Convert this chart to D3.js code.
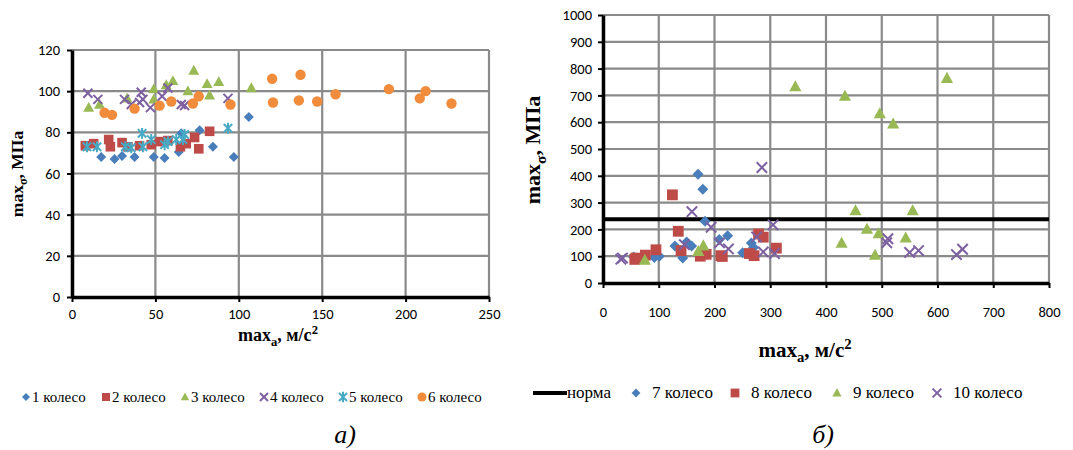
<!DOCTYPE html>
<html>
<head>
<meta charset="utf-8">
<script src="https://cdn.jsdelivr.net/npm/d3@7"></script>
<style>
  html, body { margin: 0; padding: 0; background: #fff; }
  svg { display: block; }
</style>
</head>
<body>
<script>
// ---- panel а): wheels 1–6 ----
const w1x = [17.5, 25.5, 30, 37.5, 49, 55.5, 64, 65.5, 76.5, 84.5, 97, 106];
const w1y = [68, 67, 68.5, 68, 68, 67.5, 70.5, 79.5, 81, 73, 68, 87.5];
const w2x = [8, 13, 22, 23, 30, 33.5, 40.5, 47.5, 53, 57.5, 65, 68.5, 73.5, 76, 82.5];
const w2y = [73.5, 74.5, 76.5, 73, 75, 73, 73.5, 74, 75.5, 76, 73, 74.5, 77.5, 72, 80.5];
const w3x = [10, 16.5, 33, 49, 49, 56.5, 60.5, 69.5, 73, 81, 82.5, 88, 107.5];
const w3y = [92, 93.5, 96.5, 101, 96, 103, 105, 100, 110, 103.5, 98, 104.5, 101.5];
const w4x = [9.5, 15.5, 31.5, 35.5, 40.5, 41.5, 42.5, 47, 54, 57.5, 65.5, 67.5, 93.5];
const w4y = [99, 96, 96, 93.5, 94.5, 99.5, 96, 92, 97.5, 101.5, 93.5, 93, 96.5];
const w5x = [9, 15, 32, 35.5, 42, 42.5, 47.5, 55.5, 57.5, 62.5, 66.5, 67.5, 93.5];
const w5y = [73, 73, 73, 72.5, 79.5, 73, 76.5, 74, 75.5, 76.5, 76.5, 79, 82];
const w6x = [19.5, 24, 37.5, 52.5, 59.5, 72.5, 76, 95, 120, 120.5, 136, 137, 147, 158, 190, 208.5, 212, 227.5];
const w6y = [89.5, 88.5, 91.5, 93, 95, 94, 97.5, 93.5, 106, 94.5, 95.5, 108, 95, 98.5, 101, 96.5, 100, 94];

// ---- panel б): wheels 7–10 and the limit ----
const w7x = [55, 92, 101, 129, 143, 150, 159, 170.5, 179, 183, 208.5, 223.5, 250.5, 266, 270];
const w7y = [97, 95, 100, 138, 93, 153, 138, 406, 350, 230, 162, 176, 113, 149, 132];
const w8x = [57, 59, 76, 95, 124.5, 135, 140, 174.5, 185, 211.5, 214, 262.5, 271, 279, 287.5, 311];
const w8y = [88, 93, 104, 124, 329, 193, 121, 100, 107, 102, 99, 110, 102, 183, 171, 130];
const w9x = [75, 171, 180, 345, 434, 496.5, 520.5, 617, 428, 453, 473.5, 494.5, 488, 543, 555.5];
const w9y = [85, 118, 139, 733, 697, 632, 594, 764, 149, 270, 201, 184, 104, 168, 270];
const w10x = [32, 35, 146, 159.5, 194, 209, 225, 275.5, 285, 287.5, 305, 307.5, 509, 511, 550, 566, 634, 645];
const w10y = [89, 93, 143, 266, 208, 150, 127, 172, 431, 116, 217, 110, 150, 165, 114, 121, 106, 126];
const normaValue = 238;

// ---- ticks and labels ----
const ticksXa = [0, 50, 100, 150, 200, 250];
const ticksYa = [0, 20, 40, 60, 80, 100, 120];
const ticksXb = [0, 100, 200, 300, 400, 500, 600, 700, 800];
const ticksYb = [0, 100, 200, 300, 400, 500, 600, 700, 800, 900, 1000];
const namesA = ["1 колесо", "2 колесо", "3 колесо", "4 колесо", "5 колесо", "6 колесо"];
const namesB = ["7 колесо", "8 колесо", "9 колесо", "10 колесо"];
const normaName = "норма";

const C = {
  blue: "#4A7EBB", red: "#BE4B48", green: "#98B954",
  purple: "#7D60A0", teal: "#46AAC5", orange: "#F08C3C"
};

const svg = d3.select("body").append("svg").attr("width", 1073).attr("height", 450);

// marker shapes, r = half size
function markerPath(kind, r) {
  switch (kind) {
    case "diamond": return `M0,${-r}L${r},0L0,${r}L${-r},0Z`;
    case "square": return `M${-r},${-r}H${r}V${r}H${-r}Z`;
    case "triangle": return `M0,${-r * 1.1}L${r * 1.05},${r * 0.8}L${-r * 1.05},${r * 0.8}Z`;
    case "x": return `M${-r},${-r}L${r},${r}M${-r},${r}L${r},${-r}`;
    case "star": return `M${-r},${-r}L${r},${r}M${-r},${r}L${r},${-r}M0,${-r * 1.3}L0,${r * 1.3}`;
    case "circle": return d3.arc()({ innerRadius: 0, outerRadius: r, startAngle: 0, endAngle: 2 * Math.PI });
  }
}
function drawMarker(g, kind, r, color, sw) {
  const p = g.append("path").attr("d", markerPath(kind, r));
  if (kind === "x" || kind === "star") p.attr("fill", "none").attr("stroke", color).attr("stroke-width", sw);
  else p.attr("fill", color);
  return p;
}

function panel(opt) {
  const g = svg.append("g");
  const x = d3.scaleLinear().domain(opt.xDomain).range(opt.xRange);
  const y = d3.scaleLinear().domain(opt.yDomain).range(opt.yRange);

  // grid
  const grid = g.append("g").attr("stroke", "#8A8A8A").attr("stroke-width", 2.2);
  opt.xTicks.forEach(t => grid.append("line")
    .attr("x1", x(t)).attr("x2", x(t)).attr("y1", y.range()[0]).attr("y2", y.range()[1]));
  opt.yTicks.forEach(t => grid.append("line")
    .attr("x1", x.range()[0]).attr("x2", x.range()[1]).attr("y1", y(t)).attr("y2", y(t)));

  // axes
  const fmt = d3.format("d");
  const ax = g.append("g").attr("transform", `translate(0,${y.range()[0]})`)
    .call(d3.axisBottom(x).tickValues(opt.xTicks).tickFormat(fmt).tickSize(5).tickPadding(opt.xPad).tickSizeOuter(0));
  const ay = g.append("g").attr("transform", `translate(${x.range()[0]},0)`)
    .call(d3.axisLeft(y).tickValues(opt.yTicks).tickFormat(fmt).tickSize(5).tickPadding(opt.yPad).tickSizeOuter(0));
  [ax, ay].forEach(a => {
    a.select(".domain").attr("stroke", "#000").attr("stroke-width", 3.5);
    a.selectAll(".tick line").attr("stroke", "#000").attr("stroke-width", 2);
    a.selectAll(".tick text").attr("fill", "#000")
      .style("font-family", "Carlito, 'Liberation Sans', Arial, sans-serif")
      .style("font-size", opt.tickFont + "px");
  });

  // axis titles
  const tf = "'Liberation Serif', 'Times New Roman', serif";
  const xt = g.append("text").attr("x", opt.xTitle[0]).attr("y", opt.xTitle[1])
    .attr("text-anchor", "middle").style("font-family", tf).style("font-weight", "bold")
    .style("font-size", opt.xTitle[2] + "px");
  xt.append("tspan").text("max");
  xt.append("tspan").attr("dy", opt.xTitle[2] * 0.25).style("font-size", (opt.xTitle[2] * 0.7) + "px").text("a");
  xt.append("tspan").attr("dy", -opt.xTitle[2] * 0.25).text(", м/с");
  xt.append("tspan").attr("dy", -opt.xTitle[2] * 0.4).style("font-size", (opt.xTitle[2] * 0.7) + "px").text("2");

  const yt = g.append("text")
    .attr("transform", `translate(${opt.yTitle[0]},${opt.yTitle[1]}) rotate(-90)`)
    .attr("text-anchor", "middle").style("font-family", tf).style("font-weight", "bold")
    .style("font-size", opt.yTitle[2] + "px");
  yt.append("tspan").text("max");
  yt.append("tspan").attr("dy", opt.yTitle[2] * 0.25).style("font-size", (opt.yTitle[2] * 0.7) + "px").text("σ");
  yt.append("tspan").attr("dy", -opt.yTitle[2] * 0.25).text(", МПа");

  return { g, x, y };
}

// ---------- а) ----------
const A = panel({
  xDomain: [0, 250], xRange: [72, 489], yDomain: [0, 120], yRange: [297, 50],
  xTicks: ticksXa, yTicks: ticksYa, xPad: 7, yPad: 7, tickFont: 14.5,
  xTitle: [278, 341, 18], yTitle: [23, 174, 17.5]
});
const seriesA = [
  { xs: w1x, ys: w1y, kind: "diamond", r: 5, color: C.blue },
  { xs: w2x, ys: w2y, kind: "square", r: 4.8, color: C.red },
  { xs: w3x, ys: w3y, kind: "triangle", r: 5.2, color: C.green },
  { xs: w4x, ys: w4y, kind: "x", r: 4.5, color: C.purple },
  { xs: w5x, ys: w5y, kind: "star", r: 4.2, color: C.teal },
  { xs: w6x, ys: w6y, kind: "circle", r: 5.2, color: C.orange }
];
seriesA.forEach(s => {
  s.xs.forEach((v, i) => {
    const m = A.g.append("g").attr("transform", `translate(${A.x(v)},${A.y(s.ys[i])})`);
    drawMarker(m, s.kind, s.r, s.color, 2);
  });
});

// legend а)
const lf = "'Liberation Serif', 'Times New Roman', serif";
const legA = svg.append("g");
const legAPos = [26, 106, 185, 264, 343, 422];
seriesA.forEach((s, i) => {
  const m = legA.append("g").attr("transform", `translate(${legAPos[i]},${397})`);
  drawMarker(m, s.kind, s.kind === "circle" ? 4.5 : 4, s.color, 2);
  legA.append("text").attr("x", legAPos[i] + 6).attr("y", 402)
    .style("font-family", lf).style("font-size", "15px").text(namesA[i]);
});
svg.append("text").attr("x", 345).attr("y", 443).attr("text-anchor", "middle")
  .style("font-family", lf).style("font-style", "italic").style("font-size", "26px").text("а)");

// ---------- б) ----------
const B = panel({
  xDomain: [0, 800], xRange: [603, 1049], yDomain: [0, 1000], yRange: [283, 15],
  xTicks: ticksXb, yTicks: ticksYb, xPad: 19, yPad: 6, tickFont: 14.5,
  xTitle: [805, 357, 21], yTitle: [540, 150, 22]
});
// the limit line
B.g.append("line").attr("x1", B.x(0)).attr("x2", B.x(800))
  .attr("y1", B.y(normaValue)).attr("y2", B.y(normaValue))
  .attr("stroke", "#000").attr("stroke-width", 4);
const seriesB = [
  { xs: w7x, ys: w7y, kind: "diamond", r: 5.5, color: C.blue },
  { xs: w8x, ys: w8y, kind: "square", r: 5.4, color: C.red },
  { xs: w9x, ys: w9y, kind: "triangle", r: 5.8, color: C.green },
  { xs: w10x, ys: w10y, kind: "x", r: 5.2, color: C.purple }
];
seriesB.forEach(s => {
  s.xs.forEach((v, i) => {
    const m = B.g.append("g").attr("transform", `translate(${B.x(v)},${B.y(s.ys[i])})`);
    drawMarker(m, s.kind, s.r, s.color, 2);
  });
});

// legend б)
const legB = svg.append("g");
legB.append("line").attr("x1", 533).attr("x2", 567).attr("y1", 393).attr("y2", 393)
  .attr("stroke", "#000").attr("stroke-width", 4);
legB.append("text").attr("x", 567).attr("y", 398)
  .style("font-family", lf).style("font-size", "17px").text(normaName);
const legBPos = [636, 735, 837, 937];
seriesB.forEach((s, i) => {
  const m = legB.append("g").attr("transform", `translate(${legBPos[i]},${393})`);
  drawMarker(m, s.kind, 4.4, s.color, 2);
  legB.append("text").attr("x", legBPos[i] + 16).attr("y", 398)
    .style("font-family", lf).style("font-size", "17px").text(namesB[i]);
});
svg.append("text").attr("x", 823).attr("y", 443).attr("text-anchor", "middle")
  .style("font-family", lf).style("font-style", "italic").style("font-size", "26px").text("б)");
</script>
</body>
</html>
